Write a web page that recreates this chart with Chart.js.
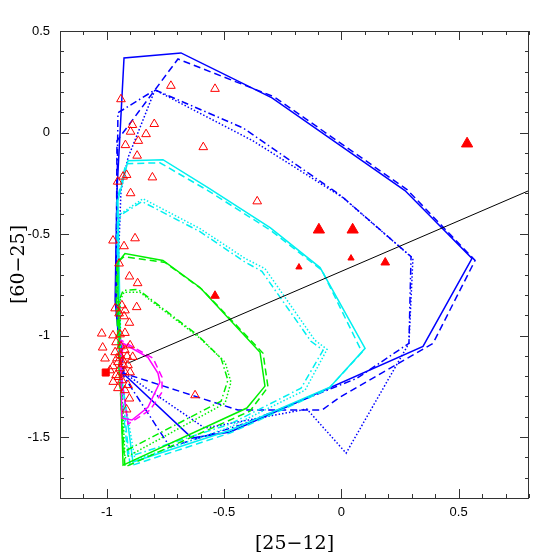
<!DOCTYPE html>
<html>
<head>
<meta charset="utf-8">
<script src="https://cdn.jsdelivr.net/npm/chart.js@4.4.1/dist/chart.umd.min.js"></script>
<style>
  html, body { margin: 0; padding: 0; background: #fff; }
  #wrap { width: 558px; height: 558px; }
</style>
</head>
<body>
<div id="wrap"><canvas id="myChart"></canvas></div>
<script>
// axes
const xRange = [-1.2, 0.8];
const yRange = [-1.8, 0.5];
const xTickLabels = [-1, -0.5, 0, 0.5];
const yTickLabels = [-1.5, -1, -0.5, 0, 0.5];

// red symbols
const openTriangles = [
  [-0.940,0.164],[-0.727,0.230],[-0.539,0.215],[-0.891,0.037],[-0.798,0.042],[-0.899,0.004],
  [-0.833,-0.008],[-0.866,-0.041],[-0.921,-0.062],[-0.589,-0.072],[-0.871,-0.114],[-0.806,-0.221],
  [-0.916,-0.209],[-0.931,-0.217],[-0.954,-0.242],[-0.899,-0.299],[-0.359,-0.339],[-0.880,-0.521],
  [-0.974,-0.532],[-0.927,-0.560],[-0.948,-0.645],[-0.904,-0.709],[-0.869,-0.742],[-0.873,-0.860],
  [-0.965,-0.866],[-0.936,-0.851],[-0.923,-0.876],[-0.948,-0.891],[-0.927,-0.905],[-0.904,-0.937],
  [-1.022,-0.990],[-0.974,-0.999],[-0.944,-0.994],[-0.923,-0.987],[-1.018,-1.059],[-1.008,-1.113],
  [-0.901,-1.048],[-0.890,-1.105],[-0.923,-1.269],[-0.904,-1.310],[-0.916,-1.364],[-0.973,-1.228],
  [-0.951,-1.204],[-0.624,-1.294],[-0.965,-1.082],[-0.944,-1.097],[-0.923,-1.072],[-0.953,-1.131],
  [-0.931,-1.122],[-0.910,-1.146],[-0.974,-1.151],[-0.944,-1.161],[-0.923,-1.181],[-0.961,-1.195],
  [-0.901,-1.181],[-0.936,-1.220],[-0.910,-1.244],[-0.953,-1.259],[-0.987,-1.171],[-0.931,-1.141],
  [-0.957,-1.112],[-0.914,-1.102],[-0.940,-1.053],[-0.961,-1.033]
];
const bigTriangles = [[0.536,-0.055],[-0.096,-0.479],[0.048,-0.479]];
const midTriangles = [[0.187,-0.640],[-0.539,-0.804]];
const smallTriangles = [[-0.181,-0.663],[0.041,-0.619]];
const squares = [[-1.005,-1.182]];

// contours
const blueSolid = [[-0.936,-1.181],[-0.965,-0.827],[-0.957,-0.286],[-0.927,0.367],[-0.684,0.392],[-0.296,0.171],[0.271,-0.286],[0.557,-0.620],[0.348,-1.053],[-0.475,-1.475],[-0.637,-1.505],[-0.936,-1.181]];
const blueDashed = [[-0.927,-1.186],[-0.961,-0.827],[-0.957,-0.041],[-0.697,0.362],[-0.287,0.176],[0.280,-0.281],[0.570,-0.630],[0.391,-1.038],[-0.006,-1.303],[-0.083,-1.367],[-0.441,-1.367],[-0.927,-1.186]];
const blueDotted = [[-0.931,-1.181],[-0.957,-0.827],[-0.940,-0.286],[-0.910,-0.124],[-0.795,0.210],[-0.377,-0.041],[0.007,-0.321],[0.305,-0.620],[0.288,-1.038],[0.020,-1.579],[-0.147,-1.362],[-0.582,-1.456],[-0.931,-1.181]];
const blueDashDot = [[-0.936,-1.186],[-0.961,-0.827],[-0.953,0.097],[-0.795,0.210],[-0.420,0.023],[-0.002,-0.311],[0.297,-0.611],[0.288,-1.038],[0.067,-1.210],[-0.432,-1.441],[-0.731,-1.549],[-0.936,-1.186]];

const cyanSolid = [[-0.940,-1.176],[-0.953,-0.335],[-0.910,-0.139],[-0.761,-0.134],[-0.569,-0.271],[-0.304,-0.468],[-0.091,-0.665],[0.101,-1.063],[-0.049,-1.254],[-0.475,-1.466],[-0.889,-1.623],[-0.940,-1.176]];
const cyanDashed = [[-0.944,-1.176],[-0.957,-0.335],[-0.919,-0.154],[-0.774,-0.149],[-0.569,-0.286],[-0.300,-0.483],[-0.083,-0.679],[0.088,-1.082],[-0.057,-1.264],[-0.475,-1.480],[-0.901,-1.642],[-0.944,-1.176]];
const cyanDotted = [[-0.944,-1.176],[-0.953,-0.483],[-0.940,-0.399],[-0.846,-0.326],[-0.603,-0.473],[-0.411,-0.620],[-0.326,-0.670],[-0.113,-1.023],[-0.061,-1.068],[-0.155,-1.269],[-0.475,-1.451],[-0.880,-1.613],[-0.944,-1.176]];
const cyanDashDot = [[-0.948,-1.176],[-0.957,-0.483],[-0.944,-0.409],[-0.850,-0.340],[-0.603,-0.488],[-0.415,-0.635],[-0.339,-0.684],[-0.130,-1.028],[-0.078,-1.072],[-0.172,-1.259],[-0.475,-1.436],[-0.910,-1.598],[-0.948,-1.176]];

const greenSolid = [[-0.944,-1.171],[-0.953,-0.778],[-0.953,-0.640],[-0.923,-0.596],[-0.761,-0.630],[-0.603,-0.763],[-0.347,-1.082],[-0.326,-1.249],[-0.403,-1.357],[-0.931,-1.638],[-0.944,-1.171]];
const greenDashed = [[-0.948,-1.171],[-0.961,-0.778],[-0.957,-0.640],[-0.927,-0.611],[-0.752,-0.640],[-0.594,-0.773],[-0.334,-1.087],[-0.313,-1.254],[-0.390,-1.372],[-0.923,-1.647],[-0.948,-1.171]];
const greenDotted = [[-0.940,-1.171],[-0.944,-0.827],[-0.927,-0.787],[-0.859,-0.787],[-0.603,-1.013],[-0.496,-1.131],[-0.471,-1.230],[-0.496,-1.333],[-0.923,-1.603],[-0.940,-1.171]];
const greenDashDot = [[-0.944,-1.171],[-0.948,-0.827],[-0.931,-0.778],[-0.867,-0.773],[-0.612,-0.999],[-0.513,-1.112],[-0.484,-1.220],[-0.513,-1.323],[-0.931,-1.574],[-0.944,-1.171]];

const magentaSolid = [[-0.940,-1.161],[-0.931,-1.038],[-0.825,-1.107],[-0.782,-1.186],[-0.774,-1.230],[-0.825,-1.353],[-0.893,-1.416],[-0.936,-1.407],[-0.940,-1.161]];
const magentaDashed = [[-0.944,-1.151],[-0.940,-1.023],[-0.803,-1.112],[-0.765,-1.205],[-0.765,-1.279],[-0.816,-1.367],[-0.910,-1.436],[-0.944,-1.151]];

const refLine = [[-0.91,-1.136],[0.8,-0.286]];

const BLUE = '#0000ff', CYAN = '#00f0f0', GREEN = '#00f000', MAGENTA = '#ff00ff', RED = '#ff0000';
const DASH = [7, 4], DOT = [1.5, 2], DASHDOT = [7, 3, 1.5, 3];

const pts = arr => arr.map(p => ({x: p[0], y: p[1]}));

function lineSet(arr, color, dash, width) {
  return {
    data: pts(arr), showLine: true, borderColor: color, borderWidth: width || 1.5,
    borderDash: dash || [], pointRadius: 0, tension: 0, fill: false
  };
}
function markSet(arr, style, r, filled) {
  return {
    data: pts(arr), showLine: false, pointStyle: style, pointRadius: r,
    borderColor: RED, borderWidth: 1,
    backgroundColor: filled ? RED : 'rgba(0,0,0,0)'
  };
}

// inward tick marks and frame on all four sides
const frameTicks = {
  id: 'frameTicks',
  afterDatasetsDraw(chart) {
    const {ctx, chartArea: a, scales: {x, y}} = chart;
    ctx.save();
    ctx.strokeStyle = '#333';
    ctx.lineWidth = 1;
    ctx.strokeRect(a.left + 0.5, a.top + 0.5, a.right - a.left - 1, a.bottom - a.top);
    ctx.beginPath();
    for (let i = -12; i <= 8; i++) {
      const len = i % 5 === 0 ? 9 : 4;
      const px = Math.round(x.getPixelForValue(i / 10)) + 0.5;
      ctx.moveTo(px, a.bottom); ctx.lineTo(px, a.bottom - len);
      ctx.moveTo(px, a.top); ctx.lineTo(px, a.top + len);
    }
    for (let i = -18; i <= 5; i++) {
      const len = i % 5 === 0 ? 9 : 4;
      const py = Math.round(y.getPixelForValue(i / 10)) + 0.5;
      ctx.moveTo(a.left, py); ctx.lineTo(a.left + len, py);
      ctx.moveTo(a.right, py); ctx.lineTo(a.right - len, py);
    }
    ctx.stroke();
    ctx.restore();
  }
};

const tickFont = {family: 'Liberation Sans', size: 13};
const titleFont = {family: 'DejaVu Serif', size: 19};

new Chart(document.getElementById('myChart'), {
  type: 'scatter',
  data: {
    datasets: [
      markSet(bigTriangles, 'triangle', 6.5, true),
      markSet(midTriangles, 'triangle', 5, true),
      markSet(smallTriangles, 'triangle', 3.6, true),
      markSet(squares, 'rect', 5, true),
      markSet(openTriangles, 'triangle', 5, false),
      lineSet(refLine, '#000', [], 1),
      lineSet(magentaSolid, MAGENTA),
      lineSet(magentaDashed, MAGENTA, DASH),
      lineSet(greenSolid, GREEN),
      lineSet(greenDashed, GREEN, DASH),
      lineSet(greenDotted, GREEN, DOT),
      lineSet(greenDashDot, GREEN, DASHDOT),
      lineSet(cyanSolid, CYAN),
      lineSet(cyanDashed, CYAN, DASH),
      lineSet(cyanDotted, CYAN, DOT),
      lineSet(cyanDashDot, CYAN, DASHDOT),
      lineSet(blueSolid, BLUE),
      lineSet(blueDashed, BLUE, DASH),
      lineSet(blueDotted, BLUE, DOT),
      lineSet(blueDashDot, BLUE, DASHDOT)
    ]
  },
  options: {
    responsive: true,
    maintainAspectRatio: false,
    animation: false,
    layout: {padding: {top: 31, right: 29, left: 0, bottom: 0}},
    plugins: {legend: {display: false}, tooltip: {enabled: false}},
    scales: {
      x: {
        type: 'linear', min: xRange[0], max: xRange[1],
        afterBuildTicks: s => { s.ticks = xTickLabels.map(v => ({value: v})); },
        afterFit: s => { s.height = 60; },
        grid: {display: false, drawTicks: false},
        border: {display: false},
        ticks: {font: tickFont, color: '#000', padding: 7, maxRotation: 0, callback: v => String(v)},
        title: {display: true, text: '[25\u221212]', font: titleFont, color: '#000', padding: {top: 0, bottom: 3}}
      },
      y: {
        type: 'linear', min: yRange[0], max: yRange[1],
        afterBuildTicks: s => { s.ticks = yTickLabels.map(v => ({value: v})); },
        afterFit: s => { s.width = 60; },
        grid: {display: false, drawTicks: false},
        border: {display: false},
        ticks: {font: tickFont, color: '#000', padding: 10, callback: v => String(v)},
        title: {display: true, text: '[60\u221225]', font: titleFont, color: '#000', padding: {top: 8, bottom: 0}}
      }
    }
  },
  plugins: [frameTicks]
});
</script>
</body>
</html>
